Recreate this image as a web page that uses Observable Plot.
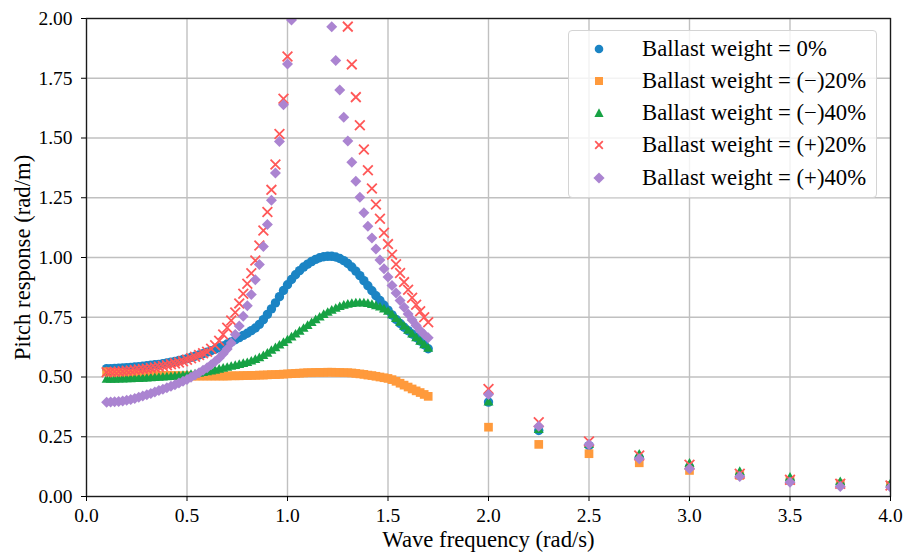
<!DOCTYPE html>
<html><head><meta charset="utf-8">
<script src="https://cdn.jsdelivr.net/npm/d3@7"></script>
<script src="https://cdn.jsdelivr.net/npm/@observablehq/plot@0.6"></script>
<style>
body{margin:0;background:#fff;}
#wrap{position:relative;width:907px;height:554px;font-family:"Liberation Serif","Tinos","Times New Roman","DejaVu Serif",serif;}
#wrap svg, #wrap svg text{font-family:"Liberation Serif","Tinos","Times New Roman","DejaVu Serif",serif;}
g[aria-label="x-axis label"], g[aria-label="y-axis label"]{font-size:22.7px;}
.legend{position:absolute;left:568px;top:30px;width:307px;height:166px;border:1px solid #d4d4d4;border-radius:4px;background:rgba(255,255,255,0.8);}
.row{position:absolute;left:0;height:32px;width:100%;}
.row svg{position:absolute;left:22px;top:8px;}
.row span{position:absolute;left:73px;top:0;font-size:22.7px;color:#000;line-height:32px;white-space:nowrap;}
</style></head><body><div id="wrap"></div>
<script>
// Wave frequency (rad/s)
const freq = [
 0.10,0.12,0.14,0.16,0.18,0.20,0.22,0.24,0.26,0.28,
 0.30,0.32,0.34,0.36,0.38,0.40,0.42,0.44,0.46,0.48,
 0.50,0.52,0.54,0.56,0.58,0.60,0.62,0.64,0.66,0.68,
 0.70,0.72,0.74,0.76,0.78,0.80,0.82,0.84,0.86,0.88,
 0.90,0.92,0.94,0.96,0.98,1.00,1.02,1.04,1.06,1.08,
 1.10,1.12,1.14,1.16,1.18,1.20,1.22,1.24,1.26,1.28,
 1.30,1.32,1.34,1.36,1.38,1.40,1.42,1.44,1.46,1.48,
 1.50,1.52,1.54,1.56,1.58,1.60,1.62,1.64,1.66,1.68,
 1.70,
 2.00,2.25,2.50,2.75,3.00,3.25,3.50,3.75,4.00];

// Pitch response (rad/m)
const ballast0 = [
 .535,.535,.536,.537,.538,.539,.540,.542,.543,.545,
 .547,.549,.551,.553,.556,.559,.562,.565,.569,.573,
 .577,.582,.587,.592,.598,.604,.610,.616,.623,.630,
 .638,.647,.656,.665,.674,.683,.694,.705,.720,.740,
 .762,.785,.810,.836,.862,.886,.908,.928,.945,.960,
 .972,.983,.992,.999,1.003,1.005,1.005,1.002,.996,.987,
 .975,.960,.943,.924,.903,.882,.861,.840,.820,.800,
 .780,.760,.741,.724,.708,.694,.680,.666,.651,.635,
 .618,
 .395,.276,.213,.162,.123,.088,.067,.050,.045];

const ballastMinus20 = [
 .522,.520,.519,.518,.516,.515,.514,.513,.512,.511,
 .510,.509,.508,.508,.507,.507,.506,.506,.505,.505,
 .505,.504,.504,.504,.504,.504,.504,.504,.504,.504,
 .504,.505,.505,.505,.506,.506,.507,.507,.508,.508,
 .509,.510,.510,.511,.512,.513,.514,.515,.516,.517,
 .518,.518,.519,.519,.519,.520,.520,.519,.519,.518,
 .518,.517,.515,.513,.511,.508,.506,.503,.500,.497,
 .494,.489,.482,.474,.466,.458,.450,.442,.435,.427,
 .419,
 .290,.218,.179,.141,.109,.088,.067,.053,.046];

const ballastMinus40 = [
 .488,.488,.488,.489,.489,.490,.490,.491,.491,.492,
 .493,.494,.495,.496,.497,.498,.499,.501,.502,.504,
 .506,.508,.510,.513,.516,.519,.522,.526,.530,.534,
 .538,.542,.546,.550,.554,.558,.564,.571,.578,.587,
 .597,.609,.620,.631,.642,.653,.665,.677,.689,.701,
 .713,.725,.737,.748,.759,.768,.777,.785,.792,.798,
 .802,.805,.807,.808,.807,.805,.801,.796,.790,.782,
 .772,.758,.742,.726,.710,.693,.677,.662,.647,.632,
 .618,
 .393,.278,.215,.175,.137,.102,.078,.060,.053];

const ballastPlus20 = [
 .520,.521,.522,.523,.524,.526,.527,.529,.531,.533,
 .535,.538,.540,.543,.546,.549,.553,.557,.561,.566,
 .572,.578,.585,.592,.599,.606,.618,.633,.652,.678,
 .706,.736,.770,.808,.848,.890,.934,.987,1.050,1.113,
 1.190,1.283,1.389,1.517,1.664,1.841,2.06,2.32,2.60,2.90,
 3.20,3.45,3.60,3.62,3.50,3.30,3.05,2.78,2.48,2.16,
 1.966,1.808,1.671,1.553,1.452,1.365,1.289,1.222,1.162,1.104,
 1.056,1.012,.972,.935,.897,.865,.832,.802,.775,.750,
 .729,
 .450,.311,.230,.172,.133,.095,.070,.053,.046];

const ballastPlus40 = [
 .394,.395,.396,.398,.400,.403,.406,.410,.415,.421,
 .426,.431,.437,.443,.449,.455,.461,.468,.475,.482,
 .490,.499,.508,.518,.528,.539,.551,.565,.580,.597,
 .617,.642,.678,.713,.754,.798,.845,.907,.971,1.046,
 1.138,1.240,1.354,1.485,1.639,1.810,1.994,2.20,2.40,2.60,
 2.75,2.85,2.82,2.70,2.45,2.15,1.966,1.824,1.701,1.587,
 1.487,1.399,1.319,1.252,1.187,1.131,1.082,1.036,.990,.953,
 .918,.883,.851,.820,.792,.764,.739,.715,.695,.678,
 .664,
 .427,.294,.218,.158,.116,.084,.060,.042,.039];

const seriesNames = ["Ballast weight = 0%","Ballast weight = (\u2212)20%","Ballast weight = (\u2212)40%","Ballast weight = (+)20%","Ballast weight = (+)40%"];
const seriesColors = ["#1b84c4","#ff9a3c","#17a244","#ff5858","#ab84d1"];
const xTicks = [0,0.5,1.0,1.5,2.0,2.5,3.0,3.5,4.0];
const yTicks = [0,0.25,0.5,0.75,1.0,1.25,1.5,1.75,2.0];

const diamond = {draw(ctx, size){const h = Math.sqrt(size/Math.PI); ctx.moveTo(0,-h); ctx.lineTo(h,0); ctx.lineTo(0,h); ctx.lineTo(-h,0); ctx.closePath();}};
const rows = (vals) => freq.map((f,i) => ({f, v: vals[i]}));
const gridStyle = {stroke:"#c0c0c0", strokeOpacity:1, strokeWidth:1.4};
const serif = '"Liberation Serif","Tinos","Times New Roman","DejaVu Serif",serif';

const chart = Plot.plot({
  width: 907, height: 554,
  marginLeft: 86, marginRight: 17, marginTop: 18, marginBottom: 58,
  style: {fontFamily: serif, background: "white", color: "black"},
  x: {domain: [0,4]},
  y: {domain: [0,2]},
  marks: [
    Plot.gridX(xTicks, gridStyle),
    Plot.gridY(yTicks, gridStyle),
    Plot.dot(rows(ballast0), {x:"f", y:"v", symbol:"circle", r:4.7, fill:seriesColors[0], stroke:"none", clip:true}),
    Plot.dot(rows(ballastMinus20), {x:"f", y:"v", symbol:"square", r:4.9, fill:seriesColors[1], stroke:"none", clip:true}),
    Plot.dot(rows(ballastMinus40), {x:"f", y:"v", symbol:"triangle", r:3.7, fill:seriesColors[2], stroke:"none", clip:true}),
    Plot.dot(rows(ballastPlus20), {x:"f", y:"v", symbol:"times", r:4.5, fill:"none", stroke:seriesColors[3], strokeWidth:1.8, clip:true}),
    Plot.dot(rows(ballastPlus40), {x:"f", y:"v", symbol:diamond, r:5.5, fill:seriesColors[4], stroke:"none", clip:true}),
    Plot.frame({stroke:"#1a1a1a", strokeWidth:1.3}),
    Plot.axisX(xTicks, {tickSize:5, tickPadding:7, tickFormat:d3.format(".1f"), fontSize:19.5, fontFamily:serif, label:"Wave frequency (rad/s)", labelAnchor:"center", labelOffset:50, labelArrow:false}),
    Plot.axisY(yTicks, {tickSize:5, tickPadding:9, tickFormat:d3.format(".2f"), fontSize:19.5, fontFamily:serif, label:"Pitch response (rad/m)", labelAnchor:"center", labelOffset:73, labelArrow:false})
  ]
});
const wrap = document.getElementById("wrap");
wrap.appendChild(chart);

// legend
const icons = [
  c => `<circle cx="8" cy="8" r="4.3" fill="${c}"/>`,
  c => `<rect x="4" y="4" width="8" height="8" fill="${c}"/>`,
  c => `<polygon points="8,3.3 12.6,12 3.4,12" fill="${c}"/>`,
  c => `<path d="M4.2,4.2L11.8,11.8M11.8,4.2L4.2,11.8" stroke="${c}" stroke-width="1.8" fill="none"/>`,
  c => `<polygon points="8,2.4 13.6,8 8,13.6 2.4,8" fill="${c}"/>`
];
const lg = document.createElement("div");
lg.className = "legend";
seriesNames.forEach((name, i) => {
  const r = document.createElement("div");
  r.className = "row";
  r.style.top = (17.5 + 32.3*i - 16) + "px";
  r.innerHTML = `<svg width="16" height="16" viewBox="0 0 16 16">${icons[i](seriesColors[i])}</svg><span>${name}</span>`;
  lg.appendChild(r);
});
wrap.appendChild(lg);
</script></body></html>
